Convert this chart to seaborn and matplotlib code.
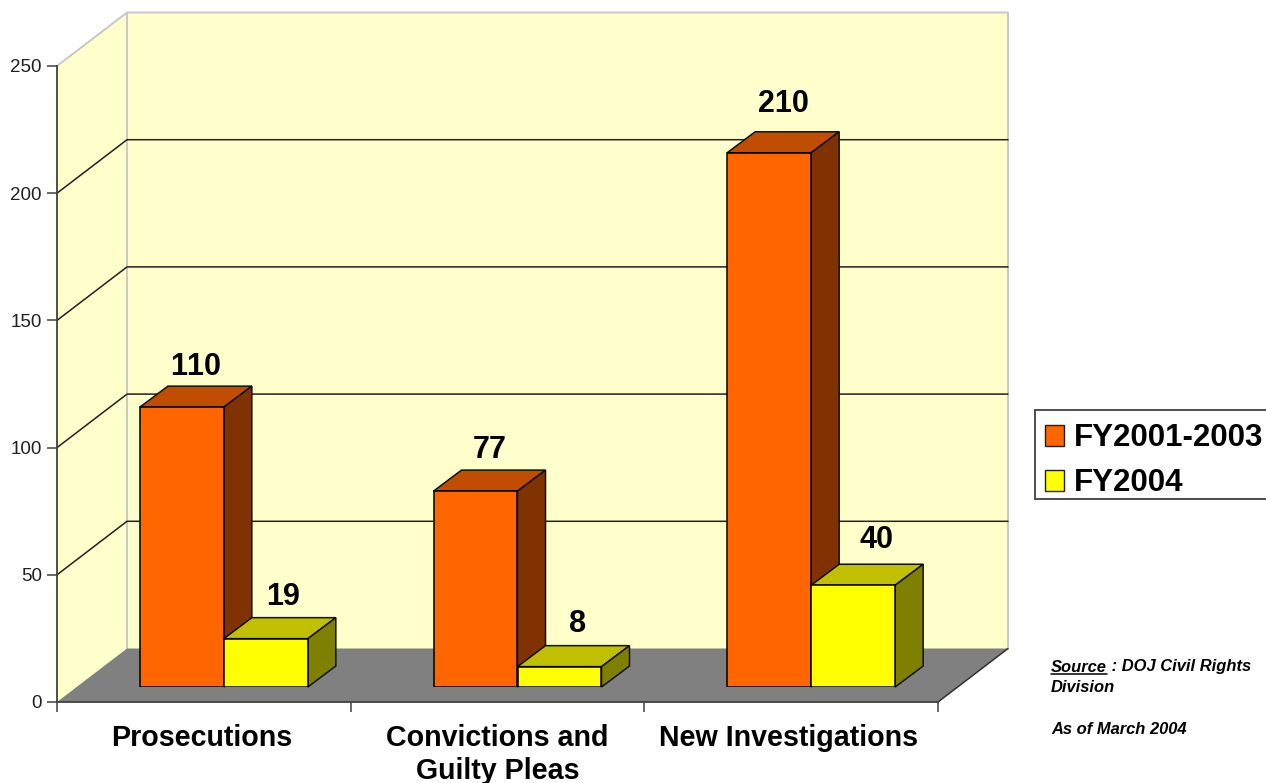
import matplotlib
matplotlib.use("Agg")
import matplotlib.pyplot as plt
from matplotlib.lines import Line2D
from matplotlib.patches import Polygon, Rectangle
from matplotlib.transforms import ScaledTranslation
import pandas as pd
import seaborn as sns

categories = ["Prosecutions", "Convictions and\nGuilty Pleas", "New Investigations"]
fy_2001_2003 = [110, 77, 210]
fy_2004 = [19, 8, 40]
series_names = ["FY2001-2003", "FY2004"]
y_ticks = [0, 50, 100, 150, 200, 250]

W, H = 1266, 783

# front plane of the fake 3d box, in pixels
LEFT, RIGHT, BOTTOM, TOP = 57, 938, 702, 66
px_x = (RIGHT - LEFT) / 3
px_y = (BOTTOM - TOP) / 250

# depth of the box and of the bars, as data units
box_dx, box_dy = 70 / px_x, 53.5 / px_y
bar_dx, bar_dy = 28 / px_x, 21 / px_y

sns.set_theme(style="white")
plt.rcParams["font.family"] = ["Liberation Sans", "DejaVu Sans"]
plt.rcParams["text.kerning_factor"] = 6

df = pd.DataFrame({
    "cat": categories * 2,
    "value": fy_2001_2003 + fy_2004,
    "series": [series_names[0]] * 3 + [series_names[1]] * 3,
})

fig = plt.figure(figsize=(W / 100, H / 100), dpi=100)


def axes_rect(shift_x=0, shift_y=0):
    return [(LEFT + shift_x) / W, (H - BOTTOM + shift_y) / H,
            (RIGHT - LEFT) / W, (BOTTOM - TOP) / H]


ax = fig.add_axes(axes_rect())
ax.set_xlim(-0.5, 2.5)
ax.set_ylim(0, 250)
ax.patch.set_alpha(0)

x0, x1 = ax.get_xlim()
top = y_ticks[-1]

# walls and floor
ax.add_patch(Polygon([(x0, 0), (x0 + box_dx, box_dy), (x0 + box_dx, top + box_dy), (x0, top)],
                     fc="#FFFFCC", ec="none", clip_on=False, zorder=0))
ax.add_patch(Polygon([(x0 + box_dx, box_dy), (x1 + box_dx, box_dy), (x1 + box_dx, top + box_dy), (x0 + box_dx, top + box_dy)],
                     fc="#FFFFCC", ec="none", clip_on=False, zorder=0))
ax.add_patch(Polygon([(x0, 0), (x1, 0), (x1 + box_dx, box_dy), (x0 + box_dx, box_dy)],
                     fc="#808080", ec="none", clip_on=False, zorder=1))

# light wall outline
edge = dict(color="#C8C8C8", lw=1.4, clip_on=False, zorder=0.5)
ax.plot([x0 + box_dx, x0 + box_dx], [box_dy, top + box_dy], **edge)
ax.plot([x1 + box_dx, x1 + box_dx], [box_dy, top + box_dy], **edge)
ax.plot([x0, x0 + box_dx, x1 + box_dx], [top, top + box_dy, top + box_dy], **edge)

# gridlines carried round the walls
for t in y_ticks[1:-1]:
    ax.plot([x0, x0 + box_dx, x1 + box_dx], [t, t + box_dy, t + box_dy],
            color="#202020", lw=1.1, clip_on=False, zorder=0.6)
ax.plot([x1, x1 + box_dx], [0, box_dy], color="#303030", lw=1.1, clip_on=False, zorder=1.5)

ax.set_yticks(y_ticks)
ax.set_xticks([-0.5, 0.5, 1.5, 2.5])
ax.set_xticklabels([])
ax.set_xticks([0, 1, 2], minor=True)
ax.set_xticklabels(categories, minor=True, fontsize=20.6, fontweight="bold",
                   color="black", linespacing=1.26)
ax.tick_params(axis="x", which="major", bottom=True, length=7, width=1.1, color="#404040")
ax.tick_params(axis="x", which="minor", bottom=False, length=0, pad=15.5)
ax.tick_params(axis="y", left=True, length=7, width=1.1, color="#404040",
               labelsize=13.5, labelcolor="#202020", pad=4)
for side in ["top", "right"]:
    ax.spines[side].set_visible(False)
for side in ["left", "bottom"]:
    ax.spines[side].set_color("#404040")
    ax.spines[side].set_linewidth(1.3)
ax.set_xlabel("")
ax.set_ylabel("")

# the category labels sit slightly left of their slot centres
for lab, nudge in zip(ax.get_xticklabels(minor=True), [-2, 0, -3]):
    lab.set_transform(lab.get_transform() + ScaledTranslation(nudge / 100, 0, fig.dpi_scale_trans))

# bars sit a little way back from the front of the floor
bar_ax = fig.add_axes(axes_rect(20, 15), zorder=2)
bar_ax.patch.set_alpha(0)
sns.barplot(data=df, x="cat", y="value", hue="series", ax=bar_ax, order=categories,
            palette=["#FF6600", "#FFFF00"], saturation=1, width=0.572, gap=0,
            edgecolor="black", linewidth=1.1, legend=True)
handles, labels = bar_ax.get_legend_handles_labels()
bar_ax.get_legend().remove()
bar_ax.set_xlim(-0.5, 2.5)
bar_ax.set_ylim(0, 250)
bar_ax.axis("off")

side_colors = ["#803300", "#808000"]
top_colors = ["#C04D00", "#C0C000"]
for i, cont in enumerate(bar_ax.containers):
    z = 3 + 2 * i
    for bar in cont:
        a, b = bar.get_x(), bar.get_x() + bar.get_width()
        h = bar.get_height()
        bar.set_zorder(z + 1)
        bar_ax.add_patch(Polygon([(a, h), (b, h), (b + bar_dx, h + bar_dy), (a + bar_dx, h + bar_dy)],
                                 fc=top_colors[i], ec="#101010", lw=1.1, clip_on=False, zorder=z))
        bar_ax.add_patch(Polygon([(b, 0), (b + bar_dx, bar_dy), (b + bar_dx, h + bar_dy), (b, h)],
                                 fc=side_colors[i], ec="#101010", lw=1.1, clip_on=False, zorder=z))

# value labels, nudged to where they sit over each bar top
label_dx = [[14, 14, 14], [17, 18, 23]]
label_dy = [[40, 41, 49], [42, 43, 45]]
for i, cont in enumerate(bar_ax.containers):
    for j, bar in enumerate(cont):
        bar_ax.annotate(f"{bar.get_height():.0f}",
                        (bar.get_x() + bar.get_width() / 2, bar.get_height()),
                        xytext=(label_dx[i][j], label_dy[i][j]), textcoords="offset pixels",
                        ha="center", va="center", fontsize=22, fontweight="bold",
                        color="black", zorder=20, annotation_clip=False)

# legend box runs off the right edge of the picture
fig.add_artist(Rectangle((1035 / W, (H - 499) / H), 240 / W, 89 / H, transform=fig.transFigure,
                         fc="white", ec="#404040", lw=1.3))
leg = fig.legend(handles, labels, loc="upper left",
                 bbox_to_anchor=(1045 / W, (H - 423.4) / H), bbox_transform=fig.transFigure,
                 prop={"weight": "bold", "size": 22.5}, labelcolor="black", frameon=False,
                 handlelength=0.62, handleheight=0.62, handletextpad=0.32,
                 borderpad=0, labelspacing=0.48, borderaxespad=0)
for patch in leg.get_patches():
    patch.set_edgecolor("#202020")
    patch.set_linewidth(1.0)

# source note
note = dict(fontsize=11.9, fontweight="bold", fontstyle="italic", color="black", va="center", ha="left")
src = fig.text(1051 / W, 1 - 667 / H, "Source", **note)
fig.canvas.draw()
bb = src.get_window_extent()
fig.add_artist(Line2D([bb.x0 / W, bb.x1 / W], [1 - 673.5 / H, 1 - 673.5 / H], color="black", lw=1.1))
fig.text(bb.x1 / W, 1 - 667 / H, " : DOJ Civil Rights", **note)
fig.text(1051 / W, 1 - 688 / H, "Division", **note)
fig.text(1051 / W, 1 - 729 / H, "As of March 2004", **note)

fig.savefig("out.png", dpi=100)
